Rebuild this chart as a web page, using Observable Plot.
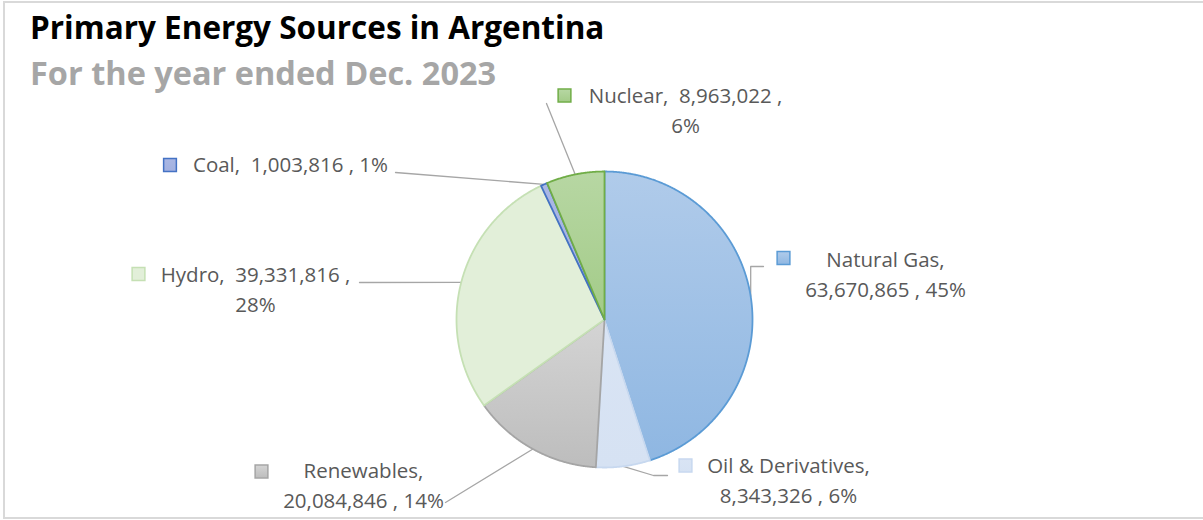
<!DOCTYPE html>
<html><head><meta charset="utf-8">
<script src="https://cdn.jsdelivr.net/npm/d3@7"></script>
<script src="https://cdn.jsdelivr.net/npm/@observablehq/plot@0.6"></script>
<style>
html,body{margin:0;padding:0;background:#fff;}
#wrap{position:relative;width:1203px;height:520px;overflow:hidden;font-family:"Open Sans",Lato,sans-serif;}
#frame{position:absolute;left:3px;top:1px;width:1220px;height:518px;border:2px solid #d9d9d9;box-sizing:border-box;}
#chart{position:absolute;left:0;top:0;}
#chart text{white-space:pre;}
#title{position:absolute;left:30px;top:5px;font-weight:bold;font-size:31.5px;line-height:normal;color:#000;white-space:nowrap;}
#subtitle{position:absolute;left:30px;top:50px;font-weight:bold;font-size:32.5px;line-height:normal;color:#a6a6a6;white-space:nowrap;}
</style></head><body>
<div id="wrap"><div id="frame"></div><div id="chart"></div>
<div id="title">Primary Energy Sources in Argentina</div>
<div id="subtitle">For the year ended Dec. 2023</div></div>
<script>
// ---- data ----
const categories = ["Natural Gas", "Oil & Derivatives", "Renewables", "Hydro", "Coal", "Nuclear"];
const values = [63670865, 8343326, 20084846, 39331816, 1003816, 8963022];

// ---- styles ----
const fillTop = ["#b0cbea", "#d9e4f4", "#d4d4d4", "#e2efd9", "#aab7e4", "#b7d7a3"];
const fillBottom = ["#8fb7e2", "#d6e2f3", "#bdbdbd", "#e2efd9", "#a3b1e0", "#a3cb88"];
const strokes = ["#5b9bd5", "#c7d8ef", "#a5a5a5", "#c5e0b4", "#4472c4", "#70ad47"];

// ---- layout (pixel-like units of the chart's x/y scales) ----
const pieCenter = [604, 319];
const pieRadius = 148;
// label block centre, line break mode, legend square, leader path (after the slice edge point)
const labelLayout = [
  {x: 885, y: 275, brk: "name", sq: [783, 257.5], path: [[751, 266], [763, 266]], lead: "vert"},
  {x: 788, y: 480.5, brk: "name", sq: [685, 465], path: [[653, 475], [667, 475]]},
  {x: 363, y: 486, brk: "name", sq: [261, 471], path: [[445, 502]]},
  {x: 255, y: 290, brk: "value", sq: [138, 273.5], path: [[359, 282]]},
  {x: 290, y: 165, brk: "none", sq: [169.5, 164.5], path: [[395, 172]]},
  {x: 685, y: 111, brk: "value", sq: [564, 95], path: [[546, 103]]}
];

const total = d3.sum(values);
const fmt = d3.format(",");
const pct = d3.format(".0%");

let cum = 0;
const slices = categories.map((name, i) => {
  const a0 = cum / total * 2 * Math.PI;
  cum += values[i];
  const a1 = cum / total * 2 * Math.PI;
  const pts = [{x: pieCenter[0], y: pieCenter[1]}];
  const n = Math.max(2, Math.ceil((a1 - a0) / 0.005));
  for (let k = 0; k <= n; k++) {
    const a = a0 + (a1 - a0) * k / n;
    pts.push({x: pieCenter[0] + pieRadius * Math.sin(a), y: pieCenter[1] - pieRadius * Math.cos(a)});
  }
  pts.push({x: pieCenter[0], y: pieCenter[1]});
  const am = (a0 + a1) / 2;
  const edge = {x: pieCenter[0] + pieRadius * Math.sin(am), y: pieCenter[1] - pieRadius * Math.cos(am)};
  return {name, value: values[i], i, pts, edge};
});

const labels = slices.map((s, i) => {
  const L = labelLayout[i];
  const nm = s.name + ",";
  const vv = fmt(s.value);
  const pc = pct(s.value / total);
  let text;
  if (L.brk === "name") text = `${nm}\n${vv} , ${pc}`;
  else if (L.brk === "value") text = `${nm}  ${vv} ,\n${pc}`;
  else text = `${nm}  ${vv} , ${pc}`;
  return {x: L.x, y: L.y, text, i};
});

const squares = slices.map((s, i) => ({x: labelLayout[i].sq[0], y: labelLayout[i].sq[1], i}));

const leaders = slices.map((s, i) => {
  const L = labelLayout[i];
  const pts = [{x: s.edge.x, y: s.edge.y}, ...L.path.map(p => ({x: p[0], y: p[1]}))];
  if (L.lead === "vert") pts[1] = {x: s.edge.x, y: L.path[0][1]};
  return pts;
});

const marks = [];
leaders.forEach(pts => marks.push(Plot.line(pts, {x: "x", y: "y", stroke: "#a6a6a6", strokeWidth: 1.3})));
slices.forEach((s, i) => marks.push(Plot.line(s.pts, {
  x: "x", y: "y", fill: `url(#grad${i})`, stroke: strokes[i], strokeWidth: 1.8, strokeLinejoin: "round"
})));
slices.forEach((s, i) => marks.push(Plot.dot([squares[i]], {
  x: "x", y: "y", symbol: "square", r: 7.2, fill: `url(#grad${i})`, stroke: strokes[i], strokeWidth: 1.5
})));
marks.push(Plot.text(labels, {
  x: "x", y: "y", text: "text", textAnchor: "middle", lineAnchor: "middle", dy: -3,
  fontSize: 20.5, lineHeight: 1.46, fill: "#595959", fontFamily: "'Open Sans', Lato, sans-serif"
}));

const chart = Plot.plot({
  width: 1203, height: 520,
  margin: 0,
  x: {domain: [0, 1203], axis: null},
  y: {domain: [520, 0], axis: null},
  style: {background: "transparent", overflow: "visible"},
  marks
});

const defs = d3.select(chart).insert("defs", ":first-child");
fillTop.forEach((c, i) => {
  const g = defs.append("linearGradient").attr("id", `grad${i}`).attr("x1", 0).attr("y1", 0).attr("x2", 0).attr("y2", 1);
  g.append("stop").attr("offset", "0%").attr("stop-color", c);
  g.append("stop").attr("offset", "100%").attr("stop-color", fillBottom[i]);
});

document.getElementById("chart").appendChild(chart);
</script>
</body></html>
